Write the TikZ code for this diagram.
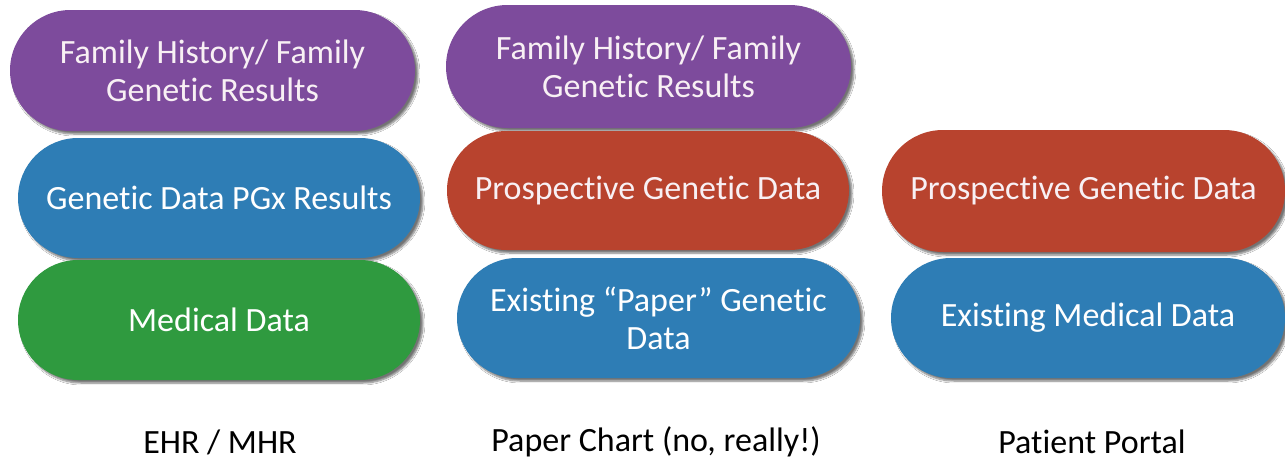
\documentclass[tikz,border=0pt]{standalone}
\usepackage{fontspec}
\setmainfont{Carlito}[RawFeature={-liga;-clig;-calt;-dlig}]
\usetikzlibrary{shapes.misc,shadows.blur}
\definecolor{pillpurple}{HTML}{7D4B9C}
\definecolor{pillblue}{HTML}{2E7DB5}
\definecolor{pillgreen}{HTML}{2F9A3F}
\definecolor{pillred}{HTML}{B8432E}
\definecolor{softwhite}{HTML}{F8F0F4}
\tikzset{
  pill/.style={rounded rectangle, fill=#1, text=white, align=center,
    inner sep=0pt, font=\fontsize{34}{38}\selectfont,
    blur shadow={shadow xshift=3pt, shadow yshift=-3pt, shadow blur steps=6, shadow opacity=55}},
  caption/.style={font=\fontsize{34}{40}\selectfont, text=black, inner sep=0pt}
}
\begin{document}
\begin{tikzpicture}[x=1pt,y=-1pt]
  \fill[white] (0,0) rectangle (1285,461);
  \useasboundingbox (0,0) rectangle (1285,461);
  % EHR / MHR column
  \node[pill=pillpurple, text=softwhite, minimum width=405pt, minimum height=121pt] (ehrfam) at (212.5,70.5) {Family History/ Family\\Genetic Results};
  \node[pill=pillblue, minimum width=402pt, minimum height=120pt] (ehrpgx) at (219,198) {Genetic Data PGx Results};
  \node[pill=pillgreen, minimum width=402pt, minimum height=120pt] (ehrmed) at (219,320) {Medical Data};
  \node[caption] (ehr) at (220,442) {EHR / MHR};
  % Paper chart column
  \node[pill=pillpurple, text=softwhite, minimum width=405pt, minimum height=123pt] (papfam) at (648.5,66.5) {Family History/ Family\\Genetic Results};
  \node[pill=pillred, text=softwhite, minimum width=402pt, minimum height=119pt] (pappro) at (648,190.5) {Prospective Genetic Data};
  \node[pill=pillblue, minimum width=403pt, minimum height=120pt] (papexi) at (658.5,318) {Existing \textquotedblleft Paper\textquotedblright\ Genetic\\Data};
  \node[caption] (pap) at (656,442) {Paper Chart (no, really!)};
  % Patient portal column
  \node[pill=pillred, text=softwhite, minimum width=403pt, minimum height=122pt] (porpro) at (1083.5,191) {Prospective Genetic Data};
  \node[pill=pillblue, minimum width=394pt, minimum height=120pt] (pormed) at (1088,318) {Existing Medical Data};
  \node[caption] (por) at (1092,442) {Patient Portal};
\end{tikzpicture}
\end{document}
